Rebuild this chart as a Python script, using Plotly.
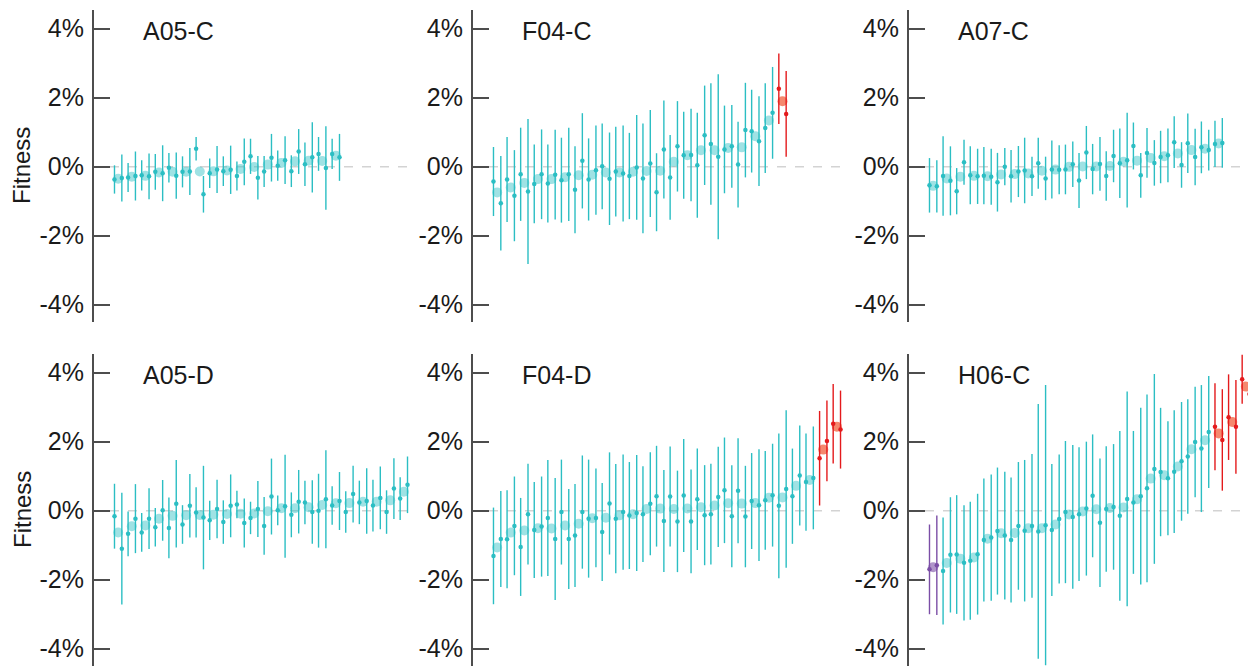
import plotly.graph_objects as go

# the page body has an 8px margin, so the figure is drawn 8px in from the window edge
PAD = 8
W, H = 1256 - PAD, 666 - PAD

# ---------------- data (fitness, %) ----------------
# per panel: replicate-1 value / half-width of error bar, replicate-2 value / half-width, group class
# class: n = neutral, b = beneficial, d = deleterious
A05C_v1 = [-0.37, -0.31, -0.25, -0.15, -0.03, -0.15, 0.52, -0.19, -0.13, -0.27, 0.30, -0.14, 0.03, -0.13, 0.07, 0.37, 0.37]
A05C_e1 = [0.41, 0.42, 0.44, 0.52, 0.43, 0.45, 0.34, 0.43, 0.43, 0.42, 0.51, 0.45, 0.44, 0.46, 0.63, 0.49, 0.44]
A05C_v2 = [-0.33, -0.27, -0.28, -0.19, -0.26, -0.14, -0.80, -0.08, -0.09, 0.14, -0.32, 0.26, 0.19, 0.44, 0.27, -0.04, 0.27]
A05C_e2 = [0.68, 0.71, 0.66, 0.81, 0.67, 0.68, 0.53, 0.68, 0.70, 0.68, 0.63, 0.69, 0.69, 0.65, 1.02, 1.21, 0.68]
A05C_cls = ["n"] * 17

F04C_v1 = [-0.43, -0.37, -0.22, -0.50, -0.49, -0.39, -0.67, -0.37, 0.01, -0.14, -0.27, -0.34, -0.74, -0.31, 0.33, 0.04, 0.66, 0.50, 0.06, 1.03, 1.12, 2.26]
F04C_e1 = [1.00, 1.23, 1.35, 1.14, 1.13, 1.23, 1.26, 1.19, 1.24, 1.30, 1.25, 1.59, 1.13, 1.23, 1.26, 1.52, 1.76, 1.27, 1.24, 1.20, 1.30, 1.02]
F04C_v2 = [-1.06, -0.84, -0.72, -0.22, -0.23, -0.22, 0.17, -0.10, -0.35, -0.20, -0.02, 0.09, 0.50, 0.59, 0.34, 0.91, 0.29, 0.59, 1.06, 0.74, 1.56, 1.53]
F04C_e2 = [1.37, 1.32, 2.10, 1.30, 1.30, 1.35, 1.38, 1.29, 1.34, 1.39, 1.52, 1.55, 1.42, 1.31, 1.34, 1.44, 2.39, 1.20, 1.37, 1.30, 1.33, 1.24]
F04C_cls = ["n"] * 21 + ["b"]

A07C_v1 = [-0.54, -0.27, -0.71, -0.25, -0.26, -0.45, -0.28, -0.11, 0.10, -0.08, -0.08, -0.40, -0.07, -0.27, 0.10, 0.60, 0.40, 0.28, 0.71, 0.68, 0.56, 0.66]
A07C_e1 = [0.79, 1.15, 0.67, 0.84, 0.83, 0.85, 0.76, 0.95, 0.74, 0.84, 0.72, 0.80, 0.73, 0.72, 1.01, 0.68, 0.72, 0.76, 0.75, 0.86, 0.75, 0.67]
A07C_v2 = [-0.57, -0.41, 0.13, -0.28, -0.29, 0.00, -0.14, -0.28, -0.34, -0.09, 0.07, 0.41, 0.08, 0.31, 0.19, -0.25, 0.11, 0.33, 0.05, 0.28, 0.48, 0.69]
A07C_e2 = [0.76, 1.00, 0.65, 0.80, 0.81, 0.54, 0.74, 0.57, 0.63, 0.71, 0.66, 0.77, 0.78, 0.76, 1.37, 0.65, 0.66, 0.78, 0.66, 0.82, 0.59, 0.72]
A07C_cls = ["n"] * 22

A05D_v1 = [-0.16, -0.67, -0.63, -0.48, -0.50, -0.40, -0.05, -0.28, -0.33, 0.18, -0.21, -0.44, 0.01, -0.12, 0.24, 0.00, 0.15, -0.04, 0.24, 0.15, -0.04, 0.35]
A05D_e1 = [0.94, 0.65, 0.56, 0.56, 0.88, 0.56, 0.73, 0.57, 0.63, 0.40, 0.47, 0.84, 0.43, 0.65, 0.63, 1.07, 0.56, 0.60, 0.63, 0.75, 0.63, 0.62]
A05D_v2 = [-1.10, -0.23, -0.23, 0.01, 0.20, 0.14, -0.20, 0.05, 0.14, -0.36, 0.05, 0.41, 0.13, 0.26, -0.04, 0.33, 0.28, 0.48, 0.28, 0.37, 0.64, 0.75]
A05D_e2 = [1.62, 1.00, 0.88, 0.88, 1.27, 0.92, 1.50, 0.85, 0.91, 0.71, 0.81, 1.10, 1.49, 0.92, 0.92, 1.42, 0.84, 0.82, 0.95, 0.91, 0.88, 0.82]
A05D_cls = ["n"] * 22

F04D_v1 = [-1.31, -0.83, -1.05, -0.56, -0.21, -0.04, -0.72, -0.23, -0.62, -0.23, -0.14, -0.10, 0.42, 0.41, 0.44, 0.33, -0.10, 0.59, 0.58, 0.28, 0.30, 0.14, 0.42, 0.83, 1.52, 2.52]
F04D_e1 = [1.40, 1.42, 1.42, 1.39, 1.68, 1.52, 1.49, 1.71, 1.42, 1.58, 1.55, 1.39, 1.46, 1.45, 1.64, 1.47, 1.46, 1.53, 1.52, 1.39, 1.43, 2.10, 1.38, 1.41, 1.37, 1.15]
F04D_v2 = [-0.82, -0.44, -0.10, -0.46, -0.82, -0.82, -0.04, -0.21, 0.21, -0.04, -0.07, 0.20, -0.30, -0.31, -0.31, -0.13, 0.40, -0.16, -0.17, 0.16, 0.45, 0.63, 1.02, 0.95, 2.02, 2.35]
F04D_e2 = [1.39, 1.43, 1.46, 1.45, 1.77, 1.45, 1.64, 1.43, 1.48, 1.67, 1.68, 1.49, 1.48, 1.47, 1.50, 1.45, 1.45, 1.48, 1.47, 1.62, 1.49, 2.28, 1.45, 1.49, 1.17, 1.13]
F04D_cls = ["n"] * 24 + ["b", "b"]

H06C_v1 = [-1.70, -1.75, -1.27, -1.45, -0.85, -0.59, -0.85, -0.58, -0.60, -0.56, -0.04, -0.10, 0.43, 0.05, -0.15, 0.24, 0.65, 1.12, 1.13, 1.57, 1.80, 2.43, 2.71, 3.81]
H06C_e1 = [1.30, 1.55, 1.72, 1.71, 1.78, 1.84, 1.81, 2.05, 3.69, 1.91, 2.06, 1.94, 1.78, 1.82, 2.46, 2.07, 2.72, 1.86, 1.78, 1.66, 1.84, 1.26, 1.24, 0.71]
H06C_v2 = [-1.58, -1.28, -1.51, -1.26, -0.78, -0.72, -0.44, -0.44, -0.42, -0.24, -0.18, 0.06, -0.35, 0.11, 0.34, 0.42, 1.21, 0.94, 1.43, 1.99, 2.28, 2.05, 2.43, 3.38]
H06C_e2 = [1.44, 1.67, 1.67, 1.75, 1.83, 1.85, 1.85, 2.08, 4.06, 1.87, 2.08, 1.94, 1.86, 1.82, 3.11, 2.56, 2.75, 1.65, 1.72, 1.60, 1.62, 1.47, 1.36, 1.09]
H06C_cls = ["d"] + ["n"] * 20 + ["b", "b", "b"]

panel_names = ["A05-C", "F04-C", "A07-C", "A05-D", "F04-D", "H06-C"]
panels = [
    (A05C_v1, A05C_e1, A05C_v2, A05C_e2, A05C_cls),
    (F04C_v1, F04C_e1, F04C_v2, F04C_e2, F04C_cls),
    (A07C_v1, A07C_e1, A07C_v2, A07C_e2, A07C_cls),
    (A05D_v1, A05D_e1, A05D_v2, A05D_e2, A05D_cls),
    (F04D_v1, F04D_e1, F04D_v2, F04D_e2, F04D_cls),
    (H06C_v1, H06C_e1, H06C_v2, H06C_e2, H06C_cls),
]
y_tickvals = [-4, -2, 0, 2, 4]
y_ticktext = ["-4%", "-2%", "0%", "2%", "4%"]

# ---------------- styling ----------------
LINE_COL = {"n": "#2BBEC3", "b": "#E41A1C", "d": "#7B4EA6"}
MEAN_COL = {"n": "rgba(43,190,195,0.45)", "b": "rgba(242,106,74,0.8)", "d": "rgba(123,78,166,0.6)"}
FONT = "Liberation Sans, Arial, Helvetica, sans-serif"
TEXT_COL = "#1A1A1A"
AXIS_COL = "#4D4D4D"


def fx(px):  # window pixel -> paper x
    return (px - PAD) / W


def fy(py):  # window pixel -> paper y
    return 1 - (py - PAD) / H


# column geometry in window pixels: (axis x, panel left, panel right, max groups in column)
cols = [(93, 110, 412, 22), (472, 489, 845, 26), (908, 925, 1254, 24)]
rows = [(10, 322), (354, 666)]  # top, bottom window pixels
YR = [-4.5, 4.54]
OFF = 0.27

fig = go.Figure()
layout = dict(
    width=W, height=H, margin=dict(l=0, r=0, t=0, b=0),
    paper_bgcolor="white", plot_bgcolor="white", showlegend=False,
    font=dict(family=FONT, color=TEXT_COL),
)
shapes, annotations = [], []

for k, (v1, e1, v2, e2, cls) in enumerate(panels):
    r, c = divmod(k, 3)
    ax_x, pl, pr, nmax = cols[c]
    top, bot = rows[r]
    xa = "x" if k == 0 else f"x{k+1}"
    ya = "y" if k == 0 else f"y{k+1}"
    xkey = "xaxis" if k == 0 else f"xaxis{k+1}"
    ykey = "yaxis" if k == 0 else f"yaxis{k+1}"
    layout[xkey] = dict(domain=[fx(pl), min(fx(pr), 1.0)], range=[0.4, nmax + 0.6], visible=False,
                        anchor=ya, fixedrange=True)
    layout[ykey] = dict(domain=[max(fy(bot), 0.0), fy(top)], range=YR, anchor="free",
                        position=fx(ax_x), showline=True, linecolor=AXIS_COL, linewidth=2,
                        ticks="inside", ticklen=16, tickwidth=2, tickcolor=AXIS_COL,
                        tickvals=y_tickvals, ticktext=y_ticktext, showgrid=False,
                        zeroline=False, tickfont=dict(size=25, color=TEXT_COL, family=FONT),
                        ticklabelstandoff=3, fixedrange=True)
    n = len(v1)
    # dashed zero reference line
    shapes.append(dict(type="line", xref=xa, yref=ya, x0=0.4, x1=nmax + 0.6, y0=0, y1=0,
                       line=dict(color="#D3D3D3", width=1.5, dash="dash"), layer="below"))
    for cl in ["n", "b", "d"]:
        idx = [i for i in range(n) if cls[i] == cl]
        if not idx:
            continue
        gx = [i + 1 for i in idx]
        means = [(v1[i] + v2[i]) / 2 for i in idx]
        fig.add_trace(go.Scatter(x=gx, y=means, mode="markers", xaxis=xa, yaxis=ya,
                                 marker=dict(size=10, color=MEAN_COL[cl], line=dict(width=0)),
                                 cliponaxis=False, hoverinfo="skip"))
        rx = [g - OFF for g in gx] + [g + OFF for g in gx]
        ry = [v1[i] for i in idx] + [v2[i] for i in idx]
        re = [e1[i] for i in idx] + [e2[i] for i in idx]
        fig.add_trace(go.Scatter(x=rx, y=ry, mode="markers", xaxis=xa, yaxis=ya,
                                 marker=dict(size=4.5, color=LINE_COL[cl], line=dict(width=0)),
                                 error_y=dict(type="data", array=re, symmetric=True, width=0,
                                              thickness=1.4, color=LINE_COL[cl]),
                                 cliponaxis=False, hoverinfo="skip"))
    # panel title
    annotations.append(dict(text=panel_names[k], xref="paper", yref="paper",
                            x=fx(ax_x + 48), y=fy(top + 21), xanchor="left", yanchor="middle",
                            showarrow=False, font=dict(size=25, color=TEXT_COL, family=FONT)))

for (top, bot) in rows:
    annotations.append(dict(text="Fitness", xref="paper", yref="paper", x=fx(22),
                            y=fy((top + bot) / 2), xanchor="center", yanchor="middle",
                            textangle=-90, showarrow=False,
                            font=dict(size=24, color=TEXT_COL, family=FONT)))

layout["shapes"] = shapes
layout["annotations"] = annotations
fig.update_layout(**layout)
fig.write_html("out.html")
